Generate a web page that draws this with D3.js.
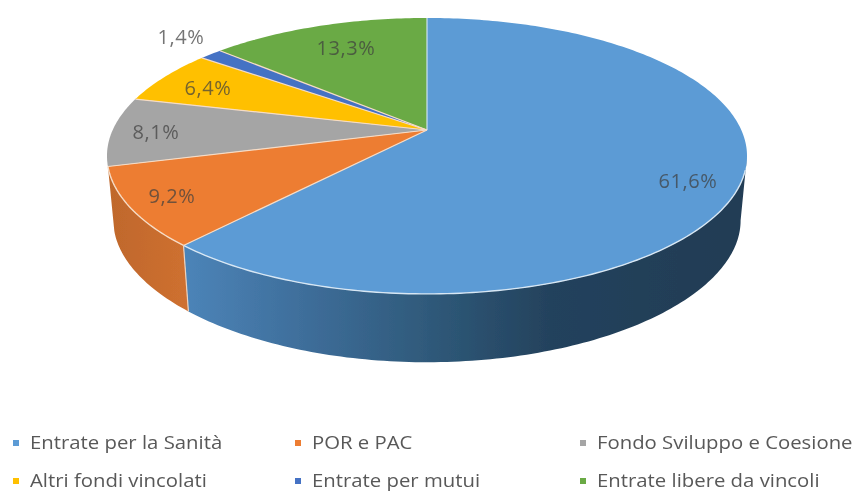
<!DOCTYPE html>
<html>
<head>
<meta charset="utf-8">
<script src="https://cdn.jsdelivr.net/npm/d3@7"></script>
<style>
  html, body { margin: 0; padding: 0; background: #fff; }
  svg { display: block; }
  text { font-family: "Open Sans", sans-serif; }
</style>
</head>
<body>
<div id="chart"></div>
<script>
// data
const categories = ["Entrate per la Sanità", "POR e PAC", "Fondo Sviluppo e Coesione",
                    "Altri fondi vincolati", "Entrate per mutui", "Entrate libere da vincoli"];
const values = [61.6, 9.2, 8.1, 6.4, 1.4, 13.3];
const colors = ["#5b9bd5", "#ed7d31", "#a5a5a5", "#ffc000", "#4472c4", "#6aaa45"];

// layout
const width = 853, height = 494;
const cx = 427, cy = 130;          // where the slices meet
const rx = 314.3, ry = 133.1;      // projected radii of the top face
const tilt = 0.188, bottomTilt = 0.22;   // perspective, near edge comes out bigger
const depth = 65, bottomScale = 0.98;
const labelAt = [[688, 181], [172, 196], [156, 132], [208, 88], [181, 37], [346, 48]];
const legendCols = [16, 298, 583], legendRows = [443, 481];

const svg = d3.select("#chart").append("svg")
    .attr("width", width)
    .attr("height", height);

const defs = svg.append("defs");
defs.append("filter").attr("id", "soft")
    .attr("x", "-5%").attr("y", "-5%").attr("width", "110%").attr("height", "110%")
  .append("feGaussianBlur").attr("stdDeviation", 0.55);

const blueSide = defs.append("linearGradient")
    .attr("id", "blueSide")
    .attr("gradientUnits", "userSpaceOnUse")
    .attr("x1", 185).attr("x2", 745).attr("y1", 0).attr("y2", 0);
[[0, "#4c84b8"], [0.2, "#3f6f9c"], [0.45, "#2e5878"], [0.65, "#24425d"], [1, "#223c54"]].forEach(function(s) {
  blueSide.append("stop").attr("offset", s[0]).attr("stop-color", s[1]);
});

const orangeSide = defs.append("linearGradient")
    .attr("id", "orangeSide")
    .attr("gradientUnits", "userSpaceOnUse")
    .attr("x1", 108).attr("x2", 190).attr("y1", 0).attr("y2", 0);
[[0, "#bf682c"], [1, "#cf7030"]].forEach(function(s) {
  orangeSide.append("stop").attr("offset", s[0]).attr("stop-color", s[1]);
});

// circle in the pie plane -> screen
function project(angle, bottom) {
  const x = Math.sin(angle), y = -Math.cos(angle);
  const s = bottom ? bottomScale : 1;
  return [cx + s * rx * x / (1 - tilt * y),
          cy + (bottom ? depth : 0) + s * ry * y / (1 - (bottom ? bottomTilt : tilt) * y)];
}

function arcAngles(a0, a1) {
  const n = Math.max(2, Math.ceil((a1 - a0) * 60));
  return d3.range(n + 1).map(function(i) { return a0 + (a1 - a0) * i / n; });
}

const line = d3.line();
const pie = d3.pie().sort(null);
const slices = pie(values);

// the wall is only visible from the right hand tangent of the top face onwards
const wallStart = Math.acos(-tilt);

const chart = svg.append("g").attr("filter", "url(#soft)");

// side wall, only the two front slices show one
const sideFill = ["url(#blueSide)", "url(#orangeSide)"];
chart.selectAll("path.side")
  .data(slices.slice(0, 2))
  .enter().append("path")
    .attr("class", "side")
    .attr("fill", function(d, i) { return sideFill[i]; })
    .attr("d", function(d) {
      const as = arcAngles(Math.max(d.startAngle, wallStart), d.endAngle);
      return d3.pairs(as).map(function(p) {
        return line([project(p[0], false), project(p[1], false),
                     project(p[1], true), project(p[0], true)]) + "Z";
      }).join("");
    });

// top face
chart.selectAll("path.top")
  .data(slices)
  .enter().append("path")
    .attr("class", "top")
    .attr("fill", function(d, i) { return colors[i]; })
    .attr("d", function(d) {
      const pts = arcAngles(d.startAngle, d.endAngle).map(function(a) { return project(a, false); });
      return line([[cx, cy]].concat(pts)) + "Z";
    });

// light lines between the slices
chart.selectAll("line.sep")
  .data(slices)
  .enter().append("line")
    .attr("class", "sep")
    .attr("x1", cx).attr("y1", cy)
    .attr("x2", function(d) { return project(d.startAngle, false)[0]; })
    .attr("y2", function(d) { return project(d.startAngle, false)[1]; })
    .attr("stroke", function(d, i) { return i == 0 ? "#cfe2f3" : "#f6dcc6"; })
    .attr("stroke-width", 1.2);

// light front rim and the edge where the side wall changes colour
chart.append("path")
    .attr("fill", "none")
    .attr("stroke", "#d8e7f4")
    .attr("stroke-width", 1.4)
    .attr("d", line(arcAngles(wallStart + 0.1, slices[0].endAngle).map(function(a) { return project(a, false); })));
chart.append("path")
    .attr("fill", "none")
    .attr("stroke", "#f6dcc6")
    .attr("stroke-width", 1.4)
    .attr("d", line(arcAngles(slices[1].startAngle, slices[1].endAngle).map(function(a) { return project(a, false); })));
chart.append("line")
    .attr("x1", project(slices[0].endAngle, false)[0])
    .attr("y1", project(slices[0].endAngle, false)[1])
    .attr("x2", project(slices[0].endAngle, true)[0])
    .attr("y2", project(slices[0].endAngle, true)[1])
    .attr("stroke", "#ecd2bd")
    .attr("stroke-width", 1.2);

// value labels
chart.selectAll("text.value")
  .data(values)
  .enter().append("text")
    .attr("class", "value")
    .attr("x", function(d, i) { return labelAt[i][0]; })
    .attr("y", function(d, i) { return labelAt[i][1]; })
    .attr("dy", "0.35em")
    .attr("text-anchor", "middle")
    .attr("font-size", 20)
    .attr("letter-spacing", 0.6)
    .attr("fill", "#404040")
    .attr("fill-opacity", 0.72)
    .text(function(d) { return d3.format(".1f")(d).replace(".", ",") + "%"; });

// legend, two rows of three
const legend = svg.append("g").attr("filter", "url(#soft)")
  .selectAll("g")
  .data(categories)
  .enter().append("g")
    .attr("transform", function(d, i) {
      return "translate(" + legendCols[i % 3] + "," + legendRows[Math.floor(i / 3)] + ")";
    });

legend.append("rect")
    .attr("x", -3).attr("y", -3)
    .attr("width", 6).attr("height", 6)
    .attr("fill", function(d, i) { return colors[i]; });

// the source text is stretched sideways
legend.append("text")
    .attr("transform", "translate(14,0) scale(1.13,1)")
    .attr("dy", "0.35em")
    .attr("font-size", 18)
    .attr("fill", "#595959")
    .text(function(d) { return d; });
</script>
</body>
</html>
